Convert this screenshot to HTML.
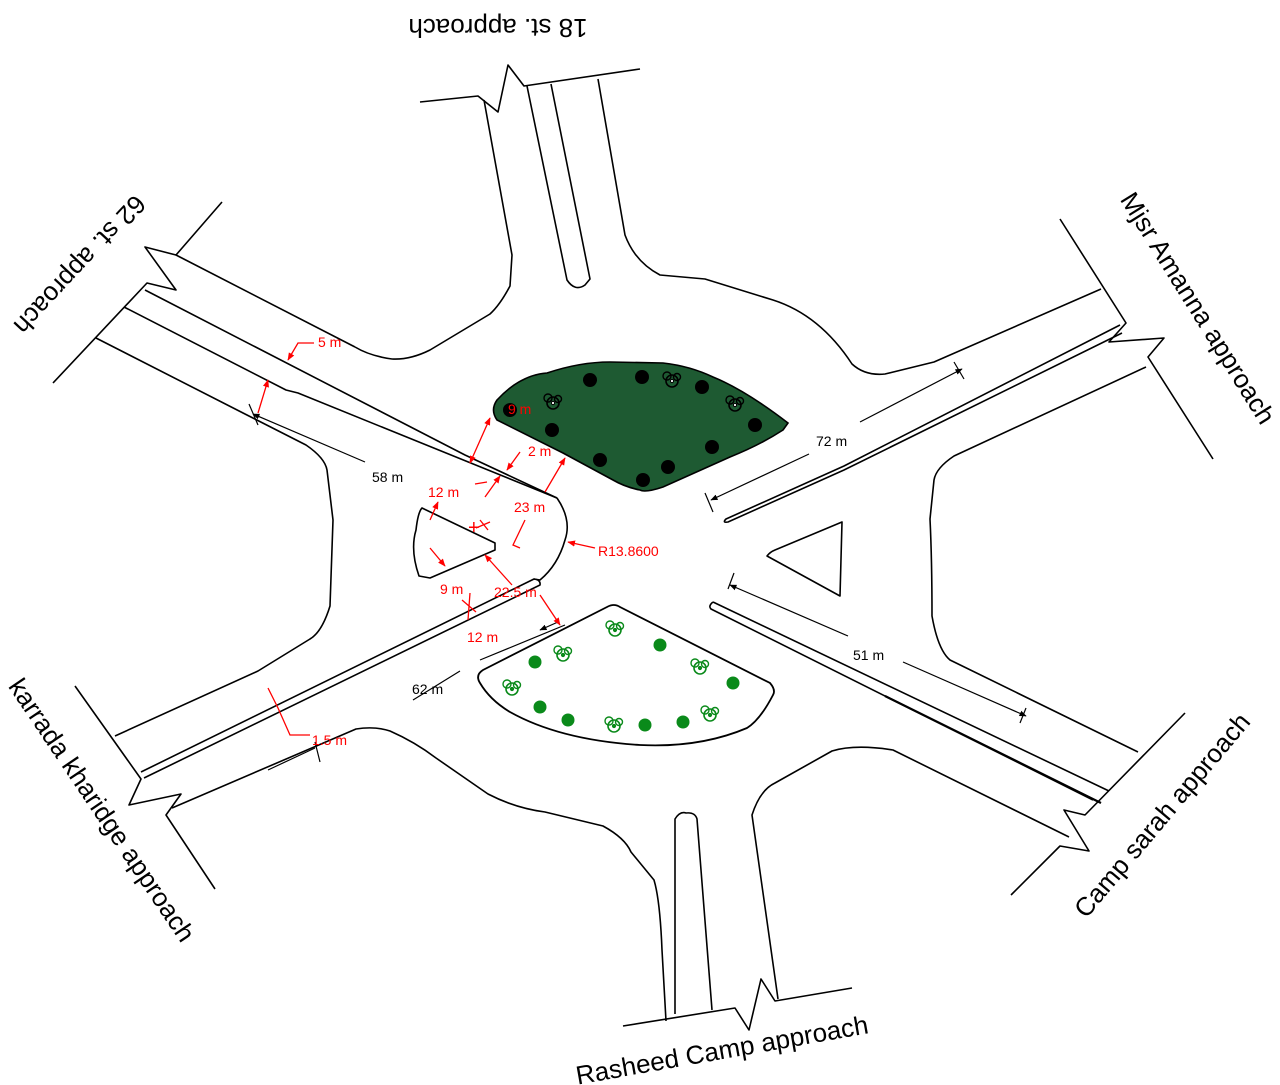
<!DOCTYPE html>
<html><head><meta charset="utf-8"><style>
html,body{margin:0;padding:0;background:#fff;}
svg{display:block;}
text{font-family:"Liberation Sans",Arial,sans-serif;}
</style></head><body>
<svg width="1280" height="1085" viewBox="0 0 1280 1085" xmlns="http://www.w3.org/2000/svg">
<defs>
<marker id="ar" viewBox="0 0 10 10" refX="9" refY="5" markerWidth="6" markerHeight="6" orient="auto-start-reverse"><path d="M0,1 L10,5 L0,9 z" fill="red"/></marker>
<marker id="ab" viewBox="0 0 10 10" refX="9" refY="5" markerWidth="6" markerHeight="6" orient="auto-start-reverse"><path d="M0,1 L10,5 L0,9 z" fill="#000"/></marker>
<g id="tw"><circle cx="0" cy="0" r="6" fill="none" stroke-width="1.6"/><circle cx="-5" cy="-5" r="4" fill="none" stroke-width="1.4"/><circle cx="5" cy="-4" r="3.5" fill="none" stroke-width="1.4"/><circle cx="0" cy="0" r="1.6"/></g>
</defs>
<g fill="none" stroke="#000" stroke-width="1.6" stroke-linejoin="round">
<path d="M420,102 L478,96 L498,112 L508,65 L524,86 L640,69"/>
<path d="M484,100 L512,255 L510,286 Q500,305 490,314 L430,350 Q410,360 392,359 Q370,356 355,347"/>
<path d="M527,86 L567,280 Q575,292 585,285 L590,279 L551,84"/>
<path d="M598,79 L625,235 Q635,262 660,275 L705,279 L773,300 Q820,315 852,364 Q865,376 885,374 L934,362 L1101,289"/>
<path d="M222,202 L176,255 L145,247 L176,290 L147,283 L53,383"/>
<path d="M176,255 L355,347"/>
<path d="M145,290 L465,455 L557,498"/>
<path d="M124,307 L286,390 L298,393 L557,498"/>
<path d="M96,338 L245,414 L306,445 Q325,458 327,470 L333,520 L330,606 Q322,632 310,639 L258,671 L115,736"/>
<path d="M557,498 Q572,520 565,540 Q558,565 540,580 L534,579"/>
<path d="M422,508 L495,543 L495,550 L430,578 L419,576 Q410,550 416,530 Q418,512 422,508 Z"/>
<path d="M75,686 L141,779 L129,805 L181,794 L166,815 L215,889"/>
<path d="M141,772 L534,579 Q541,580 540,585 L144,778"/>
<path d="M172,808 L356,729 Q375,726 390,731 Q415,742 436,758 L488,794 Q515,808 545,812 L603,826 Q625,838 631,852 L654,880 Q660,900 662,950 L666,1021"/>
<path d="M623,1026 L735,1008 L749,1030 L761,979 L775,1001 L852,988"/>
<path d="M675,1014 L675,819 Q680,811 686,813 Q695,812 697,819 L712,1010"/>
<path d="M778,999 L752,815 Q760,790 775,783 L832,751 Q855,744 893,750 L1069,837"/>
<path d="M1060,219 L1126,323 L1109,342 L1164,338 L1148,357 L1213,459"/>
<path d="M1120,325 L844,466 L726,519 Q722,523 728,522 L844,470 L1122,333"/>
<path d="M1146,367 L954,456 Q936,468 934,480 L930,519 Q932,560 932,616 Q938,650 950,660 L1138,752"/>
<path d="M1185,713 L1085,815 L1064,810 L1089,851 L1060,846 L1011,895"/>
<path d="M713,602 Q708,606 711,609 L1093,800 M713,602 L1109,791"/>
<path d="M885,696 L1101,803" stroke-width="2.2"/>
<path d="M767,556 Q770,552 775,550 L842,522 L840,596 Z"/>
</g>
<path d="M497,400 Q520,375 547,373 Q580,362 610,362 L663,363 Q690,366 713,377 Q745,390 788,423 L783,430 Q760,445 730,457 L663,487 Q645,493 640,490 Q625,487 613,480 L563,453 L497,420 Q490,410 497,400 Z" fill="#1e5a32" stroke="#000" stroke-width="1.6"/>
<g fill="#000">
<circle cx="510" cy="410" r="7"/><circle cx="590" cy="380" r="7"/><circle cx="642" cy="377" r="7"/><circle cx="702" cy="387" r="7"/><circle cx="755" cy="425" r="7"/><circle cx="712" cy="447" r="7"/><circle cx="668" cy="467" r="7"/><circle cx="643" cy="480" r="7"/><circle cx="600" cy="460" r="7"/><circle cx="552" cy="430" r="7"/>
</g>
<g stroke="#000" fill="#fff"><use href="#tw" x="553" y="403" fill="#fff"/><use href="#tw" x="672" y="381"/><use href="#tw" x="735" y="405"/></g>
<path d="M480,683 Q475,675 483,670 L607,607 Q614,603 620,607 L770,683 Q776,690 773,695 Q760,720 747,728 Q700,748 640,745 Q560,740 510,712 Q490,700 480,683 Z" fill="#fff" stroke="#000" stroke-width="1.8"/>
<g fill="#0a8a1a">
<circle cx="535" cy="662" r="6.5"/><circle cx="540" cy="707" r="6.5"/><circle cx="568" cy="720" r="6.5"/><circle cx="645" cy="725" r="6.5"/><circle cx="683" cy="722" r="6.5"/><circle cx="660" cy="645" r="6.5"/><circle cx="733" cy="683" r="6.5"/>
</g>
<g stroke="#0a8a1a" fill="#0a8a1a"><use href="#tw" x="615" y="630"/><use href="#tw" x="563" y="655"/><use href="#tw" x="512" y="689"/><use href="#tw" x="614" y="726"/><use href="#tw" x="700" y="668"/><use href="#tw" x="710" y="715"/></g>
<g stroke="#000" stroke-width="1.2" fill="none">
<path d="M253,414 L365,462" marker-start="url(#ab)"/><path d="M249,404 L258,425"/>
<path d="M413,700 L460,671 M480,660 L565,625" /><path d="M558,622 L540,630" marker-end="url(#ab)"/>
<path d="M809,454 L711,500" marker-end="url(#ab)"/><path d="M705,493 L713,512"/>
<path d="M860,422 L962,369" marker-end="url(#ab)"/><path d="M954,362 L964,379"/>
<path d="M848,636 L730,585" marker-end="url(#ab)"/><path d="M734,573 L728,589"/>
<path d="M903,662 L1026,716" marker-end="url(#ab)"/><path d="M1026,708 L1020,723"/>
<path d="M268,770 L315,748 M315,742 L320,762"/>
</g>
<g stroke="red" stroke-width="1.3" fill="none">
<path d="M314,343 L298,343 L288,360" marker-end="url(#ar)"/>
<path d="M268,380 L258,413" marker-start="url(#ar)"/>
<path d="M470,463 L490,418" marker-start="url(#ar)" marker-end="url(#ar)"/>
<path d="M485,497 L500,476" marker-end="url(#ar)"/><path d="M507,470 L520,452" marker-start="url(#ar)"/>
<path d="M545,492 L565,458" marker-end="url(#ar)"/>
<path d="M430,520 L438,502" marker-end="url(#ar)"/>
<path d="M430,548 L445,566" marker-end="url(#ar)"/>
<path d="M525,520 L513,545 L520,548"/>
<path d="M595,548 L568,542" marker-end="url(#ar)"/>
<path d="M470,593 L468,620 M462,600 L476,612"/>
<path d="M512,585 L485,555" marker-end="url(#ar)"/>
<path d="M540,595 L560,625" marker-end="url(#ar)"/>
<path d="M268,688 L278,708 L290,735 L310,735"/>
<path d="M475,484 L487,482 M480,520 L488,530 M476,528 L490,522"/>
</g>
<g font-size="14" fill="red">
<text x="318" y="347">5 m</text><text x="508" y="414">9 m</text><text x="528" y="456">2 m</text>
<text x="428" y="497">12 m</text><text x="514" y="512">23 m</text><text x="598" y="556">R13.8600</text>
<text x="440" y="594">9 m</text><text x="494" y="597">22.5 m</text><text x="467" y="642">12 m</text>
<text x="312" y="745">1.5 m</text>
<text x="468" y="534" font-size="20">+</text>
</g>
<g font-size="14" fill="#000">
<text x="372" y="482">58 m</text><text x="412" y="694">62 m</text><text x="816" y="446">72 m</text><text x="853" y="660">51 m</text>
</g>
<g font-size="26" fill="#000" text-anchor="middle">
<text transform="translate(498,28) rotate(180)" dy="9">18 st. approach</text>
<text transform="translate(80,265) rotate(133)" dy="9">62 st. approach</text>
<text transform="translate(1198,308) rotate(58)" dy="9">Mjsr Amanna approach</text>
<text transform="translate(102,810) rotate(56)" dy="9">karrada kharidge approach</text>
<text transform="translate(1162,815) rotate(-50)" dy="9">Camp sarah approach</text>
<text transform="translate(722,1050) rotate(-10)" dy="9">Rasheed Camp approach</text>
</g>
</svg>
</body></html>
